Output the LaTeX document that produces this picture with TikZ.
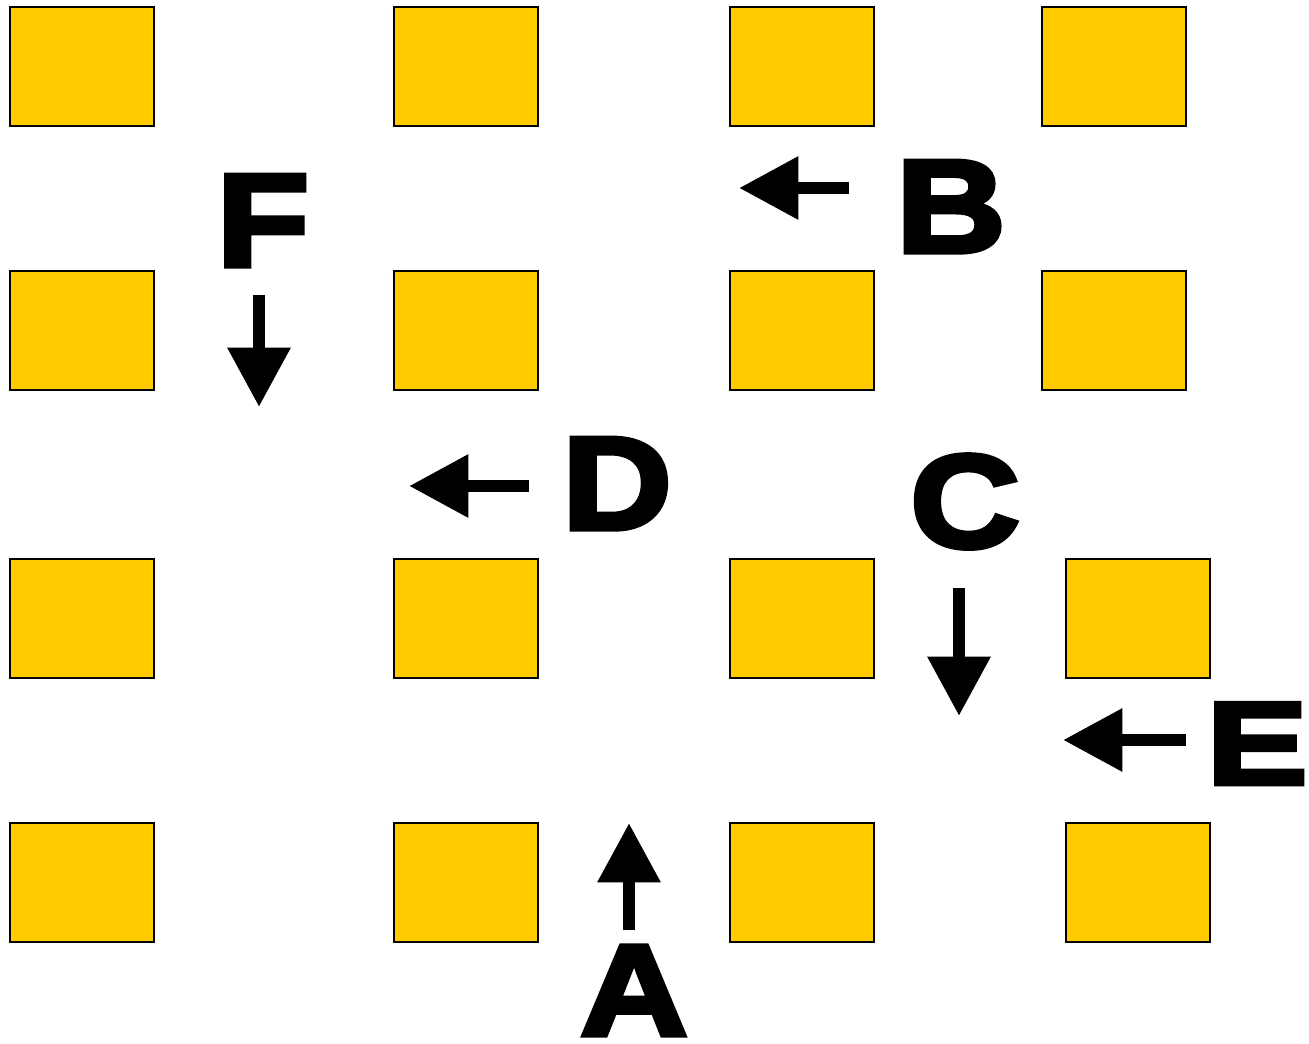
\documentclass[tikz,border=0pt]{standalone}
\usepackage{fontspec}
\usetikzlibrary{arrows.meta}
\newfontfamily\blk[FakeBold=4,FakeStretch=1.15]{Liberation Sans Bold}
\newfontfamily\blkwide[FakeBold=4,FakeStretch=1.3]{Liberation Sans Bold}
\definecolor{sqyellow}{HTML}{FFCC00}
\tikzset{
  sq/.style={draw=black, fill=sqyellow, line width=1.5pt},
  arr/.style={line width=9.4pt, -{Triangle[width=45pt,length=44.5pt]}},
  lbl/.style={inner sep=0pt, anchor=base, font=\blk\fontsize{99}{99}\selectfont},
}
\begin{document}
\begin{tikzpicture}[x=0.75pt,y=-0.75pt]
\useasboundingbox (0,0) rectangle (1309,1044);
% squares
\foreach \y in {7,271}{
  \foreach \x in {10,394,730,1042}{
    \draw[sq] (\x,\y) rectangle ++(144,119);
  }}
\foreach \y in {559,823}{
  \foreach \x in {10,394,730,1066}{
    \draw[sq] (\x,\y) rectangle ++(144,119);
  }}
% labels
\node[lbl] (F) at (263,266) {F};
\node[lbl] (B) at (951,252) {B};
\node[lbl] (D) at (617,529) {D};
\node[lbl] (C) at (965,547) {C};
\node[lbl, anchor=base west, font=\blkwide\fontsize{88}{88}\selectfont] (E) at (1206,784) {E};
\node[lbl, font=\blk\fontsize{97}{97}\selectfont] (A) at (634,1035) {A};
% arrows
\coordinate (fs) at (259,295); \coordinate (fe) at (259,407);
\coordinate (bs) at (849,188); \coordinate (be) at (739,188);
\coordinate (ds) at (529,486); \coordinate (de) at (409,486);
\coordinate (cs) at (959,588); \coordinate (ce) at (959,716);
\coordinate (es) at (1186,740); \coordinate (ee) at (1063,740);
\coordinate (as) at (629,930); \coordinate (ae) at (629,823);
\draw[arr] (fs) -- (fe);
\draw[arr] (bs) -- (be);
\draw[arr] (ds) -- (de);
\draw[arr] (cs) -- (ce);
\draw[arr] (es) -- (ee);
\draw[arr] (as) -- (ae);
\end{tikzpicture}
\end{document}
